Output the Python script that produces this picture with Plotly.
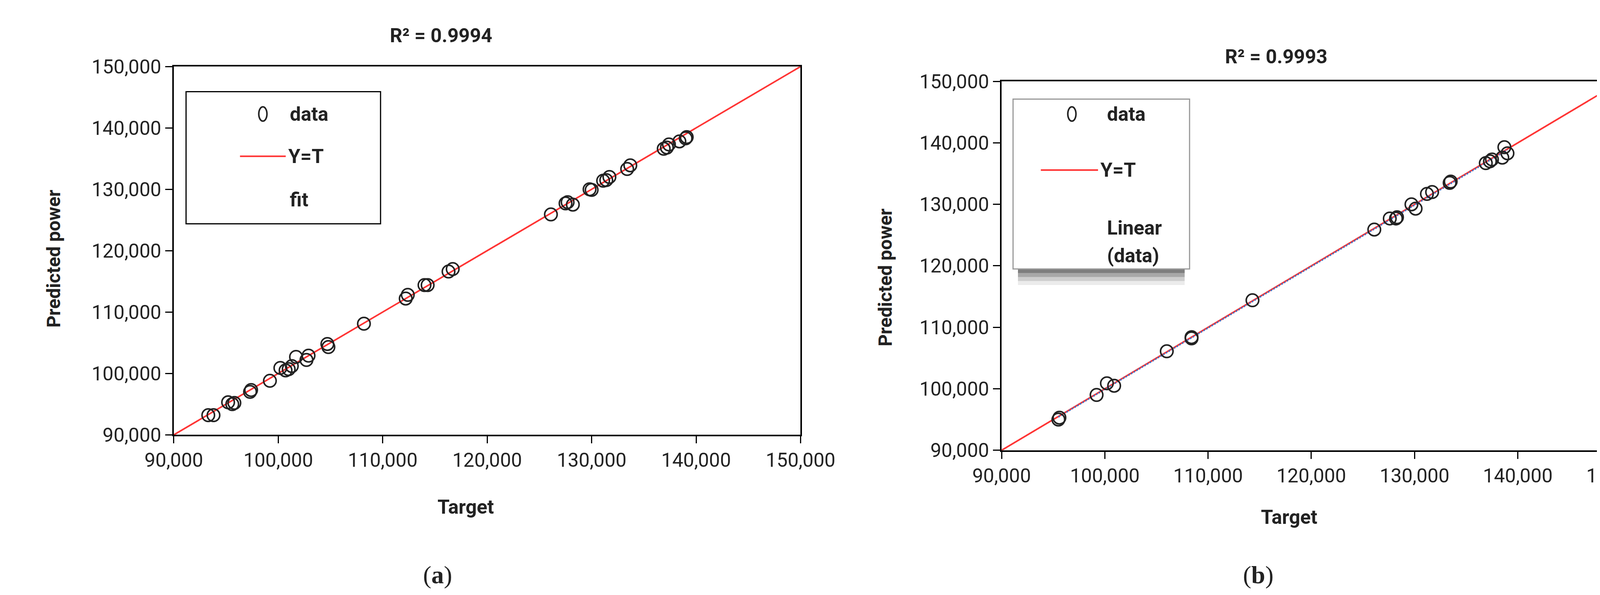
import plotly.graph_objects as go

target_a = [93300, 93800, 95200, 95600, 95800, 97300, 97400, 99200, 100200, 100700, 101000, 101300,
            101700, 102700, 102900, 104700, 104800, 108200, 112200, 112400, 114000, 114300, 116300,
            116700, 126100, 127500, 127700, 128200, 129800, 130000, 131100, 131400, 131700, 133400,
            133700, 136900, 137200, 137400, 138400, 139000, 139100]
pred_a = [93200, 93200, 95300, 95000, 95200, 97000, 97300, 98800, 100900, 100500, 100700, 101200,
          102700, 102200, 102900, 104800, 104300, 108100, 112200, 112800, 114400, 114400, 116600,
          117000, 125900, 127700, 127900, 127500, 130000, 129900, 131400, 131500, 132000, 133300,
          133900, 136600, 136800, 137300, 137800, 138300, 138500]
target_b = [95500, 95600, 99200, 100200, 100900, 106000, 108400, 108400, 114300, 126100, 127600,
            128200, 128300, 129700, 130100, 131200, 131700, 133400, 133500, 136900, 137300, 137500,
            138500, 138700, 139000]
pred_b = [95000, 95300, 99000, 100900, 100500, 106100, 108200, 108400, 114400, 125900, 127700,
          127700, 127900, 130000, 129300, 131700, 132000, 133500, 133700, 136700, 137000, 137300,
          137600, 139300, 138300]
axis_range = [90000, 150000]
tick_vals = [90000, 100000, 110000, 120000, 130000, 140000, 150000]
tick_text = ["90,000", "100,000", "110,000", "120,000", "130,000", "140,000", "150,000"]

FONT = "Liberation Sans Narrow, Roboto, sans-serif"
fig = go.Figure()

def fitline(x, y):
    n = len(x); mx = sum(x)/n; my = sum(y)/n
    b = sum((a-mx)*(c-my) for a, c in zip(x, y)) / sum((a-mx)**2 for a in x)
    return b, my - b*mx

MK = dict(symbol="circle-open", size=32, color="#222", line=dict(width=4))
fig.add_trace(go.Scatter(x=axis_range, y=axis_range, mode="lines", line=dict(color="#ff3333", width=4),
                         xaxis="x", yaxis="y", showlegend=False, cliponaxis=False))
fig.add_trace(go.Scatter(x=target_a, y=pred_a, mode="markers", xaxis="x", yaxis="y", showlegend=False, marker=MK))
fig.add_trace(go.Scatter(x=axis_range, y=axis_range, mode="lines", line=dict(color="#ff3333", width=4),
                         xaxis="x2", yaxis="y2", showlegend=False))
b, a = fitline(target_b, pred_b)
xs = [min(target_b), max(target_b)]
fig.add_trace(go.Scatter(x=xs, y=[a + b*v for v in xs], mode="lines", xaxis="x2", yaxis="y2", showlegend=False,
                         line=dict(color="#4472c4", width=4, dash="dot")))
fig.add_trace(go.Scatter(x=target_b, y=pred_b, mode="markers", xaxis="x2", yaxis="y2", showlegend=False, marker=MK))

ax = dict(range=axis_range, tickvals=tick_vals, ticktext=tick_text, showgrid=False, zeroline=False,
          showline=True, linecolor="black", linewidth=4, mirror=True, ticks="outside", ticklen=18,
          tickwidth=3, tickcolor="black", tickfont=dict(family=FONT, size=50, color="#222"))
fig.update_layout(
    width=4348, height=1522, paper_bgcolor="white", plot_bgcolor="white",
    margin=dict(l=0, r=0, t=0, b=0),
    xaxis=dict(domain=[0.0865, 0.470], anchor="y", **ax),
    yaxis=dict(domain=[0.265, 0.909], anchor="x", **ax),
    xaxis2=dict(domain=[0.593, 0.972], anchor="y2", **ax),
    yaxis2=dict(domain=[0.238, 0.883], anchor="x2", **ax),
)

def txt(x, y, t, size=50, family=FONT, bold=True, angle=0, xanchor="center"):
    fig.add_annotation(x=x, y=y, xref="paper", yref="paper", text=f"<b>{t}</b>" if bold else t,
                       showarrow=False, textangle=angle, xanchor=xanchor, yanchor="middle",
                       font=dict(family=family, size=size, color="#222"))

txt(0.250, 0.963, "R² = 0.9994")
txt(0.761, 0.926, "R² = 0.9993")
txt(0.265, 0.139, "Target")
txt(0.769, 0.121, "Target")
txt(0.013, 0.573, "Predicted power", angle=-90, size=48)
txt(0.522, 0.540, "Predicted power", angle=-90, size=48)
txt(0.248, 0.020, "(<b>a</b>)", size=64, family="Liberation Serif, serif", bold=False)
txt(0.750, 0.020, "(<b>b</b>)", size=64, family="Liberation Serif, serif", bold=False)

# legend a
fig.add_shape(type="rect", xref="paper", yref="paper", x0=0.094, x1=0.213, y0=0.634, y1=0.865,
              line=dict(color="black", width=3), fillcolor="white")
fig.add_shape(type="circle", xref="paper", yref="paper", x0=0.1385, x1=0.1435, y0=0.8135, y1=0.8385,
              line=dict(color="#222", width=4))
fig.add_shape(type="line", xref="paper", yref="paper", x0=0.127, x1=0.155, y0=0.752, y1=0.752,
              line=dict(color="#ff3333", width=4))
txt(0.157, 0.826, "data", xanchor="left")
txt(0.156, 0.752, "Y=T", xanchor="left")
txt(0.157, 0.676, "fit", xanchor="left")

# legend b with shadow
for i, op in enumerate([0.08, 0.12, 0.18, 0.25]):
    d = 0.007 * (4 - i)
    fig.add_shape(type="rect", xref="paper", yref="paper", x0=0.603, x1=0.705,
                  y0=0.555 - d, y1=0.62, line=dict(width=0), fillcolor=f"rgba(0,0,0,{op})")
fig.add_shape(type="rect", xref="paper", yref="paper", x0=0.600, x1=0.708, y0=0.555, y1=0.852,
              line=dict(color="#999", width=3), fillcolor="white")
fig.add_shape(type="circle", xref="paper", yref="paper", x0=0.6335, x1=0.6385, y0=0.8135, y1=0.8385,
              line=dict(color="#222", width=4))
fig.add_shape(type="line", xref="paper", yref="paper", x0=0.617, x1=0.652, y0=0.728, y1=0.728,
              line=dict(color="#ff3333", width=4))
txt(0.657, 0.826, "data", xanchor="left")
txt(0.653, 0.728, "Y=T", xanchor="left")
txt(0.657, 0.627, "Linear", xanchor="left")
txt(0.657, 0.578, "(data)", xanchor="left")

fig.write_html("out.html")
